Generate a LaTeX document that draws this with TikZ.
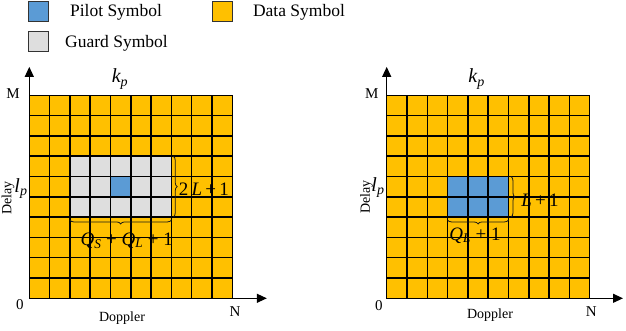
\documentclass[tikz,border=0pt]{standalone}
\usepackage{fontspec}
\setmainfont{Liberation Serif}
\usetikzlibrary{arrows.meta, decorations.pathreplacing, positioning}
\definecolor{pilotblue}{HTML}{5B9BD5}
\definecolor{datagold}{HTML}{FFC000}
\definecolor{guardgray}{HTML}{DEDEDE}

\begin{document}
\begin{tikzpicture}[x=1pt, y=1pt,
    legkey/.style={rectangle, draw=black!80, line width=0.8pt, minimum size=20pt, inner sep=0pt},
    keytext/.style={font=\fontsize{17.5}{20}\selectfont},
    axlabel/.style={font=\fontsize{15}{18}\selectfont, inner sep=0pt},
    axname/.style={font=\fontsize{14}{16}\selectfont, inner sep=0pt},
    idxlabel/.style={font=\fontsize{20}{22}\selectfont\itshape, inner sep=0pt},
    spanlabel/.style={font=\fontsize{19}{22}\selectfont, inner sep=0pt},
    gridline/.style={line width=1.5pt, line cap=rect},
    axisline/.style={line width=1.2pt, -{Triangle[length=10pt, width=9pt]}},
    bracket/.style={decorate, decoration={brace, amplitude=4pt}, line width=0.8pt, draw=black!90}]
\useasboundingbox (0,0) rectangle (626,330);

\node [legkey, fill=pilotblue] (pilotkey) at (38.5,319) {};
\node [keytext] (pilottxt) at (116,318) {Pilot Symbol};
\node [legkey, fill=datagold] (datakey) at (222,319) {};
\node [keytext] (datatxt) at (299,318) {Data Symbol};
\node [legkey, fill=guardgray] (guardkey) at (38.5,289) {};
\node [keytext] (guardtxt) at (116.5,287) {Guard Symbol};

% embedded pilot with guard symbols
\begin{scope}[shift={(29.3pt,31.7pt)}, x=20.3pt, y=20.3pt]
    \fill [datagold] (0,0) rectangle (10,10);
    \fill [guardgray] (2,4) rectangle (7,7);
    \fill [pilotblue] (4,5) rectangle (5,6);
    \foreach \i in {0,...,10} {
        \draw [gridline] (\i,0) -- (\i,10);
        \draw [gridline] (0,\i) -- (10,\i);
    }
    \coordinate (oL) at (0,0);
    \coordinate (yendL) at (0,11.4);
    \coordinate (xendL) at (11.7,0);
    \draw [axisline] (oL) -- (yendL);
    \draw [axisline] (oL) -- (xendL);
    \draw [bracket] (7.09,7) -- (7.09,4);
    \draw [bracket] (7,3.86) -- (2,3.86);
    \node [axlabel] (mL) at (-0.8,10.1) {M};
    \node [axlabel] (zeroL) at (-0.46,-0.33) {0};
    \node [axlabel] (nL) at (10.13,-0.66) {N};
    \node [axname] (dopplerL) at (4.57,-0.97) {Doppler};
    \node [axname, rotate=90, anchor=north] (delayL) at (-1.37,4.94) {Delay};
    \node [idxlabel] (kpL) at (4.47,10.8) {k\textsubscript{p}};
    \node [idxlabel] (lpL) at (-0.41,5.42) {l\textsubscript{p}};
    \node [spanlabel] (heightL) at (8.6,5.38) {2\,\textit{L}\,+\,1};
    \node [spanlabel] (widthL) at (4.8,2.85) {\textit{Q}\textsubscript{\textit{S}} + \textit{Q}\textsubscript{\textit{L}} + 1};
\end{scope}

% superimposed pilot
\begin{scope}[shift={(386.7pt,31.7pt)}, x=20.3pt, y=20.3pt]
    \fill [datagold] (0,0) rectangle (10,10);
    \fill [pilotblue] (3,4) rectangle (6,6);
    \foreach \i in {0,...,10} {
        \draw [gridline] (\i,0) -- (\i,10);
        \draw [gridline] (0,\i) -- (10,\i);
    }
    \coordinate (oR) at (0,0);
    \coordinate (yendR) at (0,11.4);
    \coordinate (xendR) at (11.64,0);
    \draw [axisline] (oR) -- (yendR);
    \draw [axisline] (oR) -- (xendR);
    \draw [bracket] (6.12,6) -- (6.12,4);
    \draw [bracket] (6,3.86) -- (3,3.86);
    \node [axlabel] (mR) at (-0.74,10.1) {M};
    \node [axlabel] (zeroR) at (-0.38,-0.38) {0};
    \node [axlabel] (nR) at (10.08,-0.66) {N};
    \node [axname] (dopplerR) at (5.09,-0.82) {Doppler};
    \node [axname, rotate=90, anchor=north] (delayR) at (-1.32,4.99) {Delay};
    \node [idxlabel] (kpR) at (4.43,10.8) {k\textsubscript{p}};
    \node [idxlabel] (lpR) at (-0.43,5.45) {l\textsubscript{p}};
    \node [spanlabel] (heightR) at (7.55,4.84) {\textit{L}\,+\,1};
    \node [spanlabel] (widthR) at (4.35,3.1) {\textit{Q}\textsubscript{\textit{L}} + 1};
\end{scope}
\end{tikzpicture}
\end{document}
